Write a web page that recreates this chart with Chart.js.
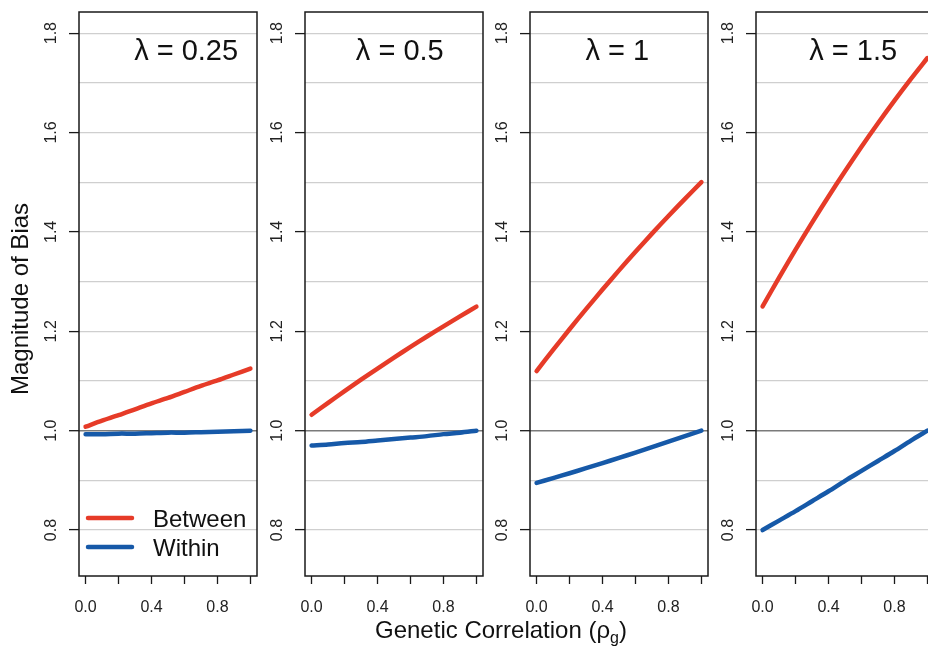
<!DOCTYPE html>
<html>
<head>
<meta charset="utf-8">
<script src="https://cdn.jsdelivr.net/npm/chart.js@4/dist/chart.umd.min.js"></script>
<style>
    body { margin: 0; width: 928px; height: 648px; overflow: hidden; background: #fff; position: relative; font-family: "Liberation Sans", Arial, sans-serif; }
    canvas { position: absolute; top: 0; }
    #tituloX { position: absolute; left: 301px; width: 400px; top: 618px; text-align: center; font-size: 24px; line-height: 24px; color: #111; white-space: nowrap; }
    #tituloX sub { font-size: 16px; vertical-align: -5px; line-height: 0; }
</style>
</head>
<body>
<canvas id="painel0" width="260" height="648" style="left:0px"></canvas>
<canvas id="painel1" width="260" height="648" style="left:226px"></canvas>
<canvas id="painel2" width="260" height="648" style="left:451px"></canvas>
<canvas id="painel3" width="260" height="648" style="left:677px"></canvas>
<div id="tituloX">Genetic Correlation (&rho;<sub>g</sub>)</div>
<script>
/* dados */
var rho = [0, 0.1, 0.2, 0.3, 0.4, 0.5, 0.6, 0.7, 0.8, 0.9, 1.0];

var between025 = [1.008, 1.020, 1.031, 1.043, 1.055, 1.066, 1.078, 1.090, 1.101, 1.113, 1.125];
var within025  = [0.993, 0.993, 0.994, 0.994, 0.995, 0.996, 0.996, 0.997, 0.998, 0.999, 1.000];

var between05 = [1.032, 1.056, 1.0795, 1.1025, 1.125, 1.147, 1.1685, 1.1895, 1.210, 1.230, 1.2495];
var within05  = [0.970, 0.972, 0.975, 0.977, 0.980, 0.983, 0.986, 0.989, 0.993, 0.996, 1.000];

var between1 = [1.120, 1.1625, 1.204, 1.2445, 1.284, 1.3225, 1.360, 1.3965, 1.432, 1.4665, 1.500];
var within1  = [0.895, 0.9045, 0.9143, 0.9244, 0.9347, 0.9452, 0.9559, 0.9668, 0.9779, 0.9892, 1.000];

var between15 = [1.250, 1.308, 1.3642, 1.4186, 1.4713, 1.5222, 1.5713, 1.6186, 1.6641, 1.7079, 1.7499];
var within15  = [0.800, 0.819, 0.838, 0.858, 0.878, 0.899, 0.919, 0.939, 0.959, 0.980, 1.000];

var lambdas = ['0.25', '0.5', '1', '1.5'];
var seriesNomes = ['Between', 'Within'];

var xTicks = [0, 0.2, 0.4, 0.6, 0.8, 1.0];
var xTickLabels = ['0.0', '', '0.4', '', '0.8', ''];
var yGrade = [0.8, 0.9, 1.0, 1.1, 1.2, 1.3, 1.4, 1.5, 1.6, 1.7, 1.8];
var yTicks = [0.8, 1.0, 1.2, 1.4, 1.6, 1.8];
var yTickLabels = ['0.8', '1.0', '1.2', '1.4', '1.6', '1.8'];
var tituloY = 'Magnitude of Bias';

/* layout */
var fonte = '"Liberation Sans", Arial, sans-serif';
var vermelho = '#e63b28';
var azul = '#1659a8';
var lambdaCentroX = [0.61, 0.535, 0.49, 0.55];

var paineis = [
    { between: between025, within: within025 },
    { between: between05, within: within05 },
    { between: between1, within: within1 },
    { between: between15, within: within15 }
];

function pontos(valores) {
    return rho.map(function (r, k) { return { x: r, y: valores[k] }; });
}

function ehTick(v) {
    return yTicks.some(function (t) { return Math.abs(t - v) < 1e-6; });
}

/*Plugin para caixa, rótulos do eixo y, lambda e legenda*/
function extras(indice) {
    return {
        id: 'extras' + indice,
        afterDraw: function (chart) {
            var ctx = chart.ctx;
            var a = chart.chartArea;
            var y = chart.scales.y;
            var x = chart.scales.x;
            ctx.save();
            ctx.strokeStyle = '#1a1a1a';
            ctx.lineWidth = 1.5;
            ctx.strokeRect(a.left, a.top, a.right - a.left, a.bottom - a.top);

            ctx.fillStyle = '#222';
            ctx.font = '16px ' + fonte;
            ctx.textAlign = 'center';
            ctx.textBaseline = 'middle';
            yTicks.forEach(function (v, k) {
                ctx.save();
                ctx.translate(a.left - 27, y.getPixelForValue(v));
                ctx.rotate(-Math.PI / 2);
                ctx.fillText(yTickLabels[k], 0, 0);
                ctx.restore();
            });

            ctx.fillStyle = '#111';
            ctx.font = '29px ' + fonte;
            ctx.textBaseline = 'alphabetic';
            ctx.fillText('\u03bb = ' + lambdas[indice], x.getPixelForValue(lambdaCentroX[indice]), a.top + 48);

            if (indice == 0) {
                // titulo do eixo y
                ctx.save();
                ctx.font = '24px ' + fonte;
                ctx.translate(28, (a.top + a.bottom) / 2 + 5);
                ctx.rotate(-Math.PI / 2);
                ctx.fillText(tituloY, 0, 0);
                ctx.restore();

                var cores = [vermelho, azul];
                ctx.font = '24px ' + fonte;
                ctx.textAlign = 'left';
                ctx.lineCap = 'round';
                [a.bottom - 58, a.bottom - 29].forEach(function (ly, k) {
                    ctx.strokeStyle = cores[k];
                    ctx.lineWidth = 4.5;
                    ctx.beginPath();
                    ctx.moveTo(a.left + 9, ly);
                    ctx.lineTo(a.left + 53, ly);
                    ctx.stroke();
                    ctx.fillText(seriesNomes[k], a.left + 74, ly + 9);
                });
            }
            ctx.restore();
        }
    };
}

function CriarPainel(indice) {
    var ctx = document.getElementById('painel' + indice).getContext('2d');
    var dados = paineis[indice];

    return new Chart(ctx, {
        type: 'line',
        data: {
            datasets: [{
                label: seriesNomes[0],
                data: pontos(dados.between),
                borderColor: vermelho,
                borderWidth: 4.5,
                borderCapStyle: 'round',
                pointRadius: 0,
                tension: 0.3
            }, {
                label: seriesNomes[1],
                data: pontos(dados.within),
                borderColor: azul,
                borderWidth: 4.5,
                borderCapStyle: 'round',
                pointRadius: 0,
                tension: 0.3
            }]
        },
        options: {
            responsive: false,
            animation: false,
            layout: { padding: { top: 12, right: 3, left: 0, bottom: 0 } },
            plugins: {
                legend: { display: false },
                tooltip: { enabled: false }
            },
            scales: {
                x: {
                    type: 'linear',
                    min: -0.04,
                    max: 1.04,
                    afterBuildTicks: function (s) { s.ticks = xTicks.map(function (v) { return { value: v }; }); },
                    afterFit: function (s) { s.height = 72; s.paddingLeft = 0; s.paddingRight = 0; },
                    border: { display: false },
                    grid: { drawOnChartArea: false, drawTicks: true, tickLength: 8, tickColor: '#1a1a1a', tickWidth: 1.3 },
                    ticks: {
                        autoSkip: false,
                        maxRotation: 0,
                        padding: 14,
                        color: '#222',
                        font: { family: fonte, size: 16 },
                        callback: function (v, k) { return xTickLabels[k]; }
                    }
                },
                y: {
                    type: 'linear',
                    min: 0.7075,
                    max: 1.8425,
                    afterBuildTicks: function (s) { s.ticks = yGrade.map(function (v) { return { value: v }; }); },
                    afterFit: function (s) { s.width = 79; },
                    border: { display: false },
                    grid: {
                        color: function (c) { return c.tick && Math.abs(c.tick.value - 1) < 1e-6 ? '#7a7a7a' : '#cfcfcf'; },
                        lineWidth: function (c) { return c.tick && Math.abs(c.tick.value - 1) < 1e-6 ? 1.4 : 1.2; },
                        tickLength: 10,
                        tickWidth: 1.3,
                        tickColor: function (c) { return c.tick && ehTick(c.tick.value) ? '#1a1a1a' : 'rgba(0,0,0,0)'; }
                    },
                    ticks: { display: false }
                }
            }
        },
        plugins: [extras(indice)]
    });
}

for (var i = 0; i < paineis.length; i++) {
    CriarPainel(i);
}
</script>
</body>
</html>
